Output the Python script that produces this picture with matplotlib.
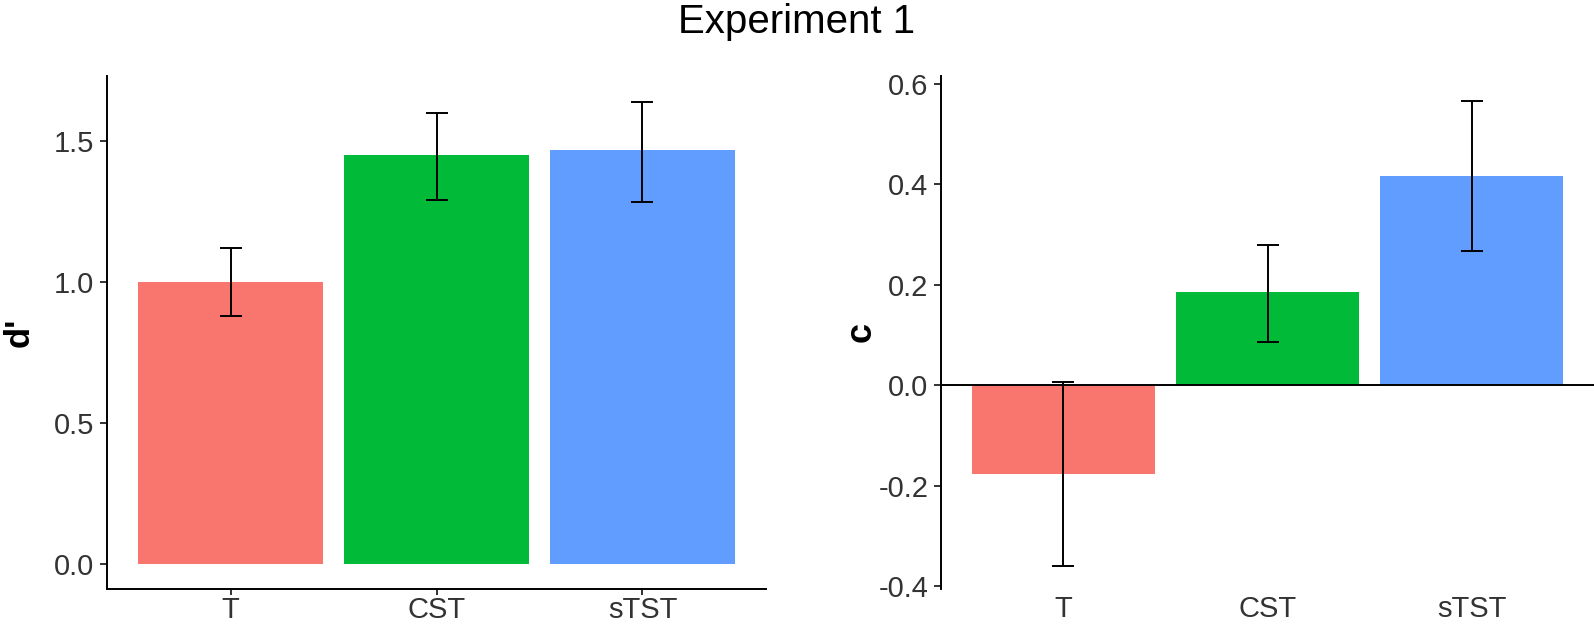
import matplotlib
matplotlib.use("Agg")
import matplotlib.pyplot as plt
import numpy as np

plt.rcParams['font.family'] = ['Liberation Sans', 'DejaVu Sans']

categories = ["T", "CST", "sTST"]
colors = ["#F8766D", "#00BA38", "#619CFF"]

dprime = [1.00, 1.45, 1.47]
dprime_lo = [0.88, 1.29, 1.285]
dprime_hi = [1.12, 1.60, 1.64]

crit = [-0.176, 0.186, 0.417]
crit_lo = [-0.36, 0.087, 0.267]
crit_hi = [0.006, 0.279, 0.565]

W, H = 1594, 626
fig = plt.figure(figsize=(W / 100, H / 100), dpi=100)

tick_color = "#333333"
tick_fs = 21
lw = 1.4

ax1 = fig.add_axes([107 / W, 1 - 589 / H, (766 - 107) / W, (589 - 76) / H])
ax2 = fig.add_axes([941 / W, 1 - 589 / H, (W - 941) / W, (589 - 76) / H])

x = np.arange(1, len(categories) + 1)

def draw(ax, vals, lo, hi):
    ax.bar(x, vals, width=0.9, color=colors, zorder=2)
    v = np.array(vals)
    yerr = np.vstack([v - np.array(lo), np.array(hi) - v])
    ax.errorbar(x, vals, yerr=yerr, fmt='none', ecolor='black',
                elinewidth=lw, capsize=8, capthick=lw, zorder=3)
    ax.set_xlim(0.4, 3.6)
    ax.set_xticks(x)
    ax.set_xticklabels(categories)
    for s in ["top", "right"]:
        ax.spines[s].set_visible(False)
    ax.tick_params(axis='y', labelsize=tick_fs, labelcolor=tick_color,
                   width=lw, length=5, color='#333333', pad=4)
    ax.tick_params(axis='x', labelsize=tick_fs, labelcolor=tick_color,
                   width=lw, length=4, color='#333333', pad=1)

draw(ax1, dprime, dprime_lo, dprime_hi)
ax1.set_ylim(-0.089, 1.731)
ax1.set_yticks([0.0, 0.5, 1.0, 1.5])
ax1.set_yticklabels(["0.0", "0.5", "1.0", "1.5"])
ax1.spines['left'].set_linewidth(lw)
ax1.spines['bottom'].set_linewidth(lw)
ax1.set_ylabel("d'", fontsize=25, fontweight='bold', labelpad=13)

draw(ax2, crit, crit_lo, crit_hi)
ax2.set_ylim(-0.405, 0.615)
ax2.set_yticks([-0.4, -0.2, 0.0, 0.2, 0.4, 0.6])
ax2.set_yticklabels(["-0.4", "-0.2", "0.0", "0.2", "0.4", "0.6"])
ax2.spines['bottom'].set_visible(False)
ax2.spines['left'].set_linewidth(lw)
ax2.tick_params(axis='x', length=0, pad=4)
ax2.axhline(0, color='black', linewidth=lw, zorder=4)
ax2.set_ylabel("c", fontsize=26, fontweight='bold', labelpad=0)

fig.suptitle("Experiment 1", fontsize=29, y=0.995, va='top')

fig.savefig("out.png", dpi=100)
